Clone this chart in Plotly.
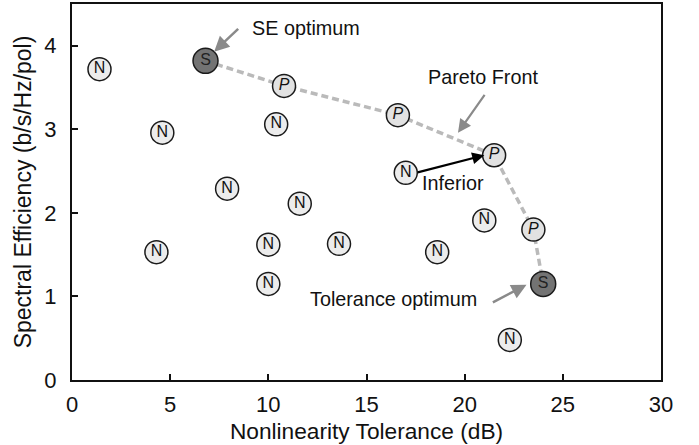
import plotly.graph_objects as go

# Data
n_x = [1.4, 4.6, 10.4, 7.9, 11.6, 4.3, 10.0, 10.0, 13.6, 18.6, 22.3, 21.0, 17.0]
n_y = [3.72, 2.96, 3.06, 2.29, 2.11, 1.53, 1.62, 1.15, 1.63, 1.53, 0.48, 1.91, 2.48]
p_x = [10.8, 16.6, 21.5, 23.5]
p_y = [3.52, 3.17, 2.69, 1.80]
s_x = [6.8, 24.0]
s_y = [3.82, 1.15]
front_x = [6.8, 10.8, 16.6, 21.5, 23.5, 24.0]
front_y = [3.82, 3.52, 3.17, 2.69, 1.80, 1.15]

x_ticks = [0, 5, 10, 15, 20, 25, 30]
y_ticks = [0, 1, 2, 3, 4]

FONT = "Liberation Sans, Arial, sans-serif"

fig = go.Figure()

fig.add_trace(go.Scatter(
    x=front_x, y=front_y, mode="lines",
    line=dict(color="#bababa", width=3.5, dash="7px,4px"),
    hoverinfo="skip", showlegend=False))

def add_points(xs, ys, label, fill, size, tcolor):
    fig.add_trace(go.Scatter(
        x=xs, y=ys, mode="markers+text",
        marker=dict(size=size, color=fill, line=dict(color="#1a1a1a", width=1.5)),
        text=[label] * len(xs), textposition="middle center",
        textfont=dict(family=FONT, size=16, color=tcolor),
        showlegend=False))

add_points(n_x, n_y, "N", "#ececec", 23, "#111")
add_points(p_x, p_y, "<i>P</i>", "#e2e2e2", 23, "#111")
add_points(s_x, s_y, "S", "#737373", 25, "#222")

ann_font = dict(family=FONT, size=19.8, color="#111")
annotations = [
    dict(x=9.05, y=4.21, text="SE optimum", xanchor="left", showarrow=False, font=ann_font),
    dict(x=20.95, y=3.63, text="Pareto Front", showarrow=False, font=ann_font),
    dict(x=19.4, y=2.36, text="Inferior", showarrow=False, font=ann_font),
    dict(x=16.4, y=0.97, text="Tolerance optimum", showarrow=False, font=ann_font),
    # arrows
    dict(x=7.24, y=3.93, ax=8.54, ay=4.22, axref="x", ayref="y", xref="x", yref="y",
         text="", showarrow=True, arrowhead=2, arrowsize=1.2, arrowwidth=2.5, arrowcolor="#8a8a8a"),
    dict(x=19.66, y=2.96, ax=21.07, ay=3.43, axref="x", ayref="y", xref="x", yref="y",
         text="", showarrow=True, arrowhead=2, arrowsize=1.2, arrowwidth=2.2, arrowcolor="#8a8a8a"),
    dict(x=21.0, y=2.69, ax=17.53, ay=2.48, axref="x", ayref="y", xref="x", yref="y",
         text="", showarrow=True, arrowhead=2, arrowsize=1.1, arrowwidth=2.2, arrowcolor="#000000"),
    dict(x=23.15, y=1.14, ax=21.36, ay=0.92, axref="x", ayref="y", xref="x", yref="y",
         text="", showarrow=True, arrowhead=2, arrowsize=1.2, arrowwidth=2.5, arrowcolor="#8a8a8a"),
]

fig.update_layout(
    width=699, height=445,
    margin=dict(l=72, r=38, t=2, b=65),
    paper_bgcolor="white", plot_bgcolor="white",
    font=dict(family=FONT, size=21, color="#111"),
    annotations=annotations,
    showlegend=False,
)
fig.update_xaxes(
    range=[0, 30], tickvals=x_ticks, ticktext=[str(v) for v in x_ticks],
    showgrid=False, zeroline=False, showline=True, linecolor="#111", linewidth=2,
    mirror=True, ticks="inside", ticklen=6, tickwidth=1.5, tickcolor="#111",
    ticklabelstandoff=4,
    tickfont=dict(size=22), title=dict(text="Nonlinearity Tolerance (dB)", font=dict(size=22.7), standoff=7))
fig.update_yaxes(
    range=[0, 4.5], tickvals=y_ticks, ticktext=[str(v) for v in y_ticks],
    showgrid=False, zeroline=False, showline=True, linecolor="#111", linewidth=2,
    mirror=True, ticks="inside", ticklen=6, tickwidth=1.5, tickcolor="#111",
    ticklabelstandoff=9,
    tickfont=dict(size=22), title=dict(text="Spectral Efficiency (b/s/Hz/pol)", font=dict(size=23), standoff=6))

fig.write_html("out.html")
